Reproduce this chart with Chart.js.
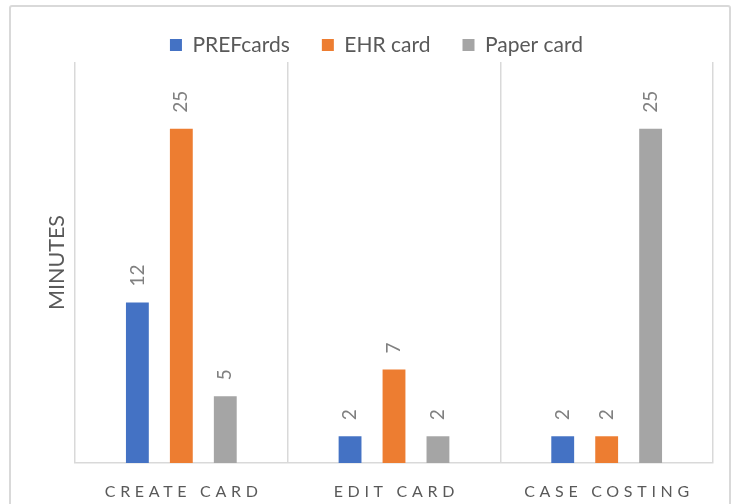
<!DOCTYPE html>
<html><head><meta charset="utf-8">
<script src="https://cdn.jsdelivr.net/npm/chart.js@4"></script>
<style>
html,body{margin:0;padding:0;background:#fff;width:733px;height:504px;overflow:hidden}
#frame{position:absolute;left:9px;top:5px;width:722px;height:530px;border:2px solid #d9d9d9;border-radius:3px;box-sizing:border-box}
#c{position:absolute;left:0;top:0}
</style></head>
<body>
<div id="frame"></div>
<canvas id="c" width="733" height="504"></canvas>
<script>
const categories = ['CREATE CARD', 'EDIT CARD', 'CASE COSTING'];
const seriesNames = ['PREFcards', 'EHR card', 'Paper card'];
const prefcardsValues = [12, 2, 2];
const ehrCardValues = [25, 7, 2];
const paperCardValues = [5, 2, 25];
const yAxisTitle = 'MINUTES';
const yMin = 0, yMax = 30;

const FONT = 'Lato, "Open Sans", sans-serif';
const colors = ['#4472c4', '#ed7d31', '#a5a5a5'];

const dataLabels = {
  id: 'dataLabels',
  afterDatasetsDraw(chart) {
    const ctx = chart.ctx;
    ctx.save();
    ctx.font = '19px ' + FONT;
    ctx.fillStyle = '#808080';
    ctx.textAlign = 'left';
    ctx.textBaseline = 'middle';
    chart.data.datasets.forEach((ds, di) => {
      const meta = chart.getDatasetMeta(di);
      meta.data.forEach((bar, i) => {
        ctx.save();
        ctx.translate(bar.x, bar.y - 16);
        ctx.rotate(-Math.PI / 2);
        ctx.fillText(String(ds.data[i]), 0, 0);
        ctx.restore();
      });
    });
    ctx.restore();
  }
};

const xLabels = {
  id: 'xLabels',
  afterDraw(chart) {
    const ctx = chart.ctx;
    const xs = chart.scales.x;
    const sp = 4.7;
    ctx.save();
    ctx.font = '16px ' + FONT;
    ctx.fillStyle = '#595959';
    ctx.textAlign = 'center';
    ctx.textBaseline = 'middle';
    ctx.letterSpacing = sp + 'px';
    categories.forEach((c, i) => {
      ctx.fillText(c, xs.getPixelForValue(i) + sp / 2, chart.chartArea.bottom + 29);
    });
    ctx.restore();
  }
};

new Chart(document.getElementById('c'), {
  type: 'bar',
  data: {
    labels: categories,
    datasets: [
      { label: seriesNames[0], data: prefcardsValues, backgroundColor: colors[0] },
      { label: seriesNames[1], data: ehrCardValues, backgroundColor: colors[1] },
      { label: seriesNames[2], data: paperCardValues, backgroundColor: colors[2] }
    ]
  },
  options: {
    responsive: false,
    devicePixelRatio: 1,
    animation: false,
    datasets: { bar: { categoryPercentage: 0.62, barPercentage: 0.52 } },
    layout: { padding: { top: 2.5, left: 40, right: 20, bottom: 41 } },
    plugins: {
      legend: {
        position: 'top',
        maxHeight: 59.5,
        labels: {
          boxWidth: 12, boxHeight: 12, padding: 32,
          color: '#595959',
          font: { family: FONT, size: 21 }
        }
      },
      tooltip: { enabled: false }
    },
    scales: {
      x: {
        grid: { offset: true, color: '#d9d9d9', lineWidth: 1.5, drawTicks: false },
        border: { color: '#d9d9d9', width: 1.5 },
        ticks: { display: false }
      },
      y: {
        min: yMin, max: yMax,
        grid: { display: false },
        border: { display: false },
        ticks: { display: false },
        title: {
          display: true, text: yAxisTitle, color: '#595959',
          font: { family: FONT, size: 21.5 },
          padding: { top: 4, bottom: 0 }
        },
        afterFit(scale) { scale.width = 35; }
      }
    }
  },
  plugins: [dataLabels, xLabels]
});
</script>
</body></html>
